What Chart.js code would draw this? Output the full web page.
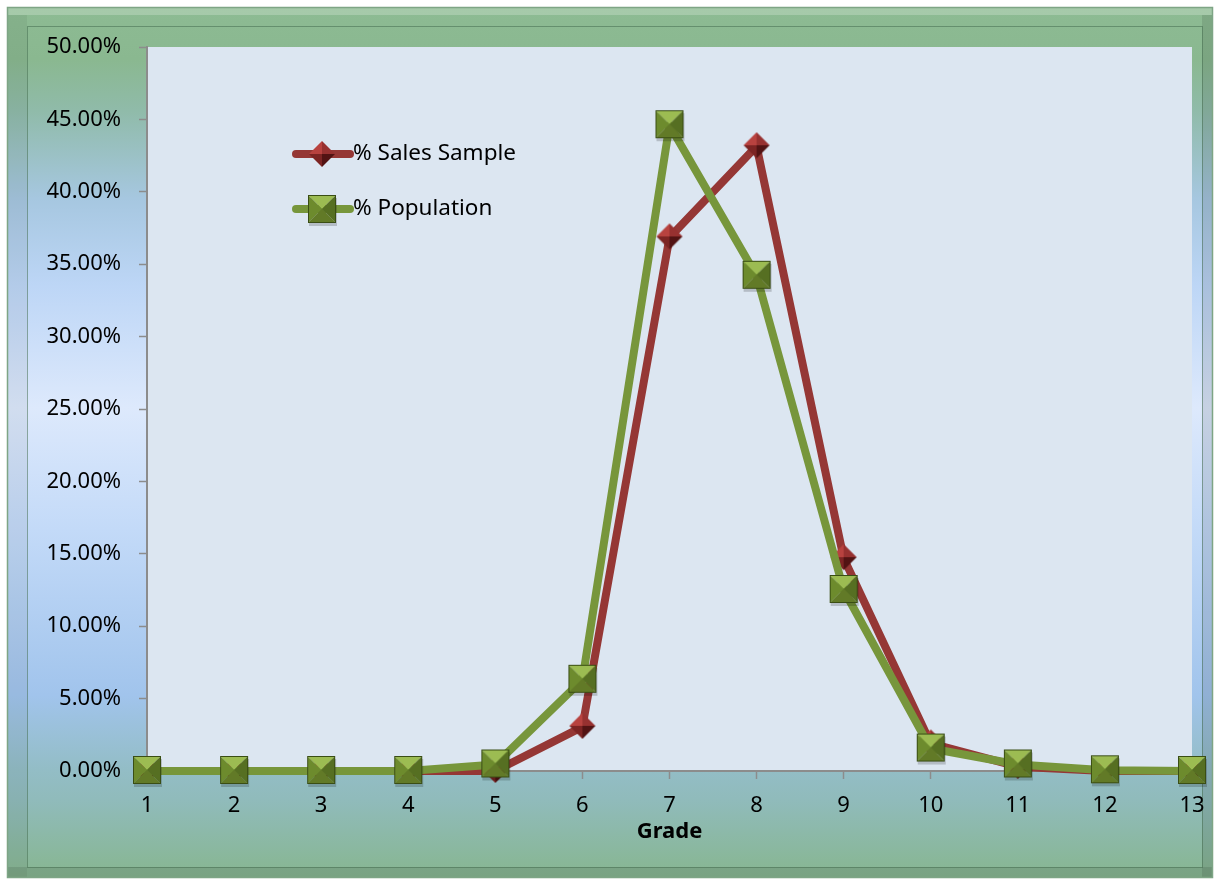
<!DOCTYPE html>
<html>
<head>
<meta charset="utf-8">
<script src="https://cdn.jsdelivr.net/npm/chart.js@4.4.1/dist/chart.umd.min.js"></script>
<style>
  html, body { margin: 0; padding: 0; background: #fff; }
  #wrap { width: 1215px; height: 880px; }
</style>
</head>
<body>
<div id="wrap"><canvas id="gradeChart" width="1215" height="880"></canvas></div>
<script>
const grades = ['1', '2', '3', '4', '5', '6', '7', '8', '9', '10', '11', '12', '13'];
const salesSample = [0, 0, 0, 0, 0, 3.05, 36.85, 43.15, 14.7, 1.9, 0.3, 0, 0];
const population = [0, 0, 0, 0, 0.45, 6.3, 44.6, 34.2, 12.5, 1.55, 0.45, 0.05, 0];
const yTicks = { min: 0, max: 50, step: 5 };

// beveled marker images
function makeSquare() {
  const c = document.createElement('canvas');
  c.width = 32; c.height = 34;
  const g = c.getContext('2d');
  g.fillStyle = 'rgba(0,0,0,0.18)';
  g.fillRect(3, 5, 28, 28);
  const a = 2, b = 30, m = 16;
  const face = (pts, col) => {
    g.beginPath();
    g.moveTo(pts[0][0], pts[0][1]);
    pts.slice(1).forEach(p => g.lineTo(p[0], p[1]));
    g.closePath();
    g.fillStyle = col;
    g.fill();
  };
  face([[a, a], [b, a], [m, m]], '#9cbc52');
  face([[a, a], [m, m], [a, b]], '#6d8b2d');
  face([[b, a], [b, b], [m, m]], '#566f22');
  face([[a, b], [m, m], [b, b]], '#627a27');
  g.strokeStyle = '#3a4e14';
  g.lineWidth = 1;
  g.strokeRect(a + 0.5, a + 0.5, b - a - 1, b - a - 1);
  return c;
}

function makeDiamond() {
  const c = document.createElement('canvas');
  c.width = 30; c.height = 32;
  const g = c.getContext('2d');
  const m = 15, r = 13;
  const face = (pts, col) => {
    g.beginPath();
    g.moveTo(pts[0][0], pts[0][1]);
    pts.slice(1).forEach(p => g.lineTo(p[0], p[1]));
    g.closePath();
    g.fillStyle = col;
    g.fill();
  };
  face([[m, m - r], [m - r, m], [m, m]], '#b8423f');
  face([[m, m - r], [m + r, m], [m, m]], '#973130');
  face([[m - r, m], [m, m + r], [m, m]], '#7c2423');
  face([[m + r, m], [m, m + r], [m, m]], '#521313');
  return c;
}

const squareImg = makeSquare();
const diamondImg = makeDiamond();

const backdrop = {
  id: 'backdrop',
  beforeDraw(chart) {
    const ctx = chart.ctx;
    const { chartArea } = chart;
    ctx.save();
    ctx.fillStyle = '#ffffff';
    ctx.fillRect(0, 0, chart.width, chart.height);
    const x0 = 7, y0 = 7, x1 = 1213, y1 = 878;
    const grad = ctx.createLinearGradient(0, y0, 0, y1);
    grad.addColorStop(0.0, '#8dbb93');
    grad.addColorStop(0.06, '#8ab890');
    grad.addColorStop(0.12, '#90bbaa');
    grad.addColorStop(0.22, '#a6c7e0');
    grad.addColorStop(0.32, '#bdd6f6');
    grad.addColorStop(0.46, '#dde9fc');
    grad.addColorStop(0.6, '#c3daf8');
    grad.addColorStop(0.79, '#a1c4ec');
    grad.addColorStop(0.875, '#93bdc6');
    grad.addColorStop(0.91, '#90bbbb');
    grad.addColorStop(1.0, '#87b690');
    ctx.fillStyle = grad;
    ctx.fillRect(x0, y0, x1 - x0, y1 - y0);
    // bevel bands
    ctx.fillStyle = 'rgba(255,255,255,0.22)';
    ctx.fillRect(x0, y0, x1 - x0, 8);
    ctx.fillStyle = 'rgba(0,0,0,0.05)';
    ctx.fillRect(x0, y0 + 8, 20, y1 - y0 - 8);
    ctx.fillStyle = 'rgba(0,0,0,0.1)';
    ctx.fillRect(x1 - 11, y0 + 8, 11, y1 - y0 - 8);
    ctx.fillRect(x0, y1 - 11, x1 - x0, 11);
    ctx.strokeStyle = 'rgba(70,110,80,0.55)';
    ctx.lineWidth = 1;
    ctx.strokeRect(27.5, 26.5, 1202 - 27, 867 - 26);
    ctx.strokeStyle = '#7ea585';
    ctx.lineWidth = 1.5;
    ctx.strokeRect(x0 + 0.5, y0 + 0.5, x1 - x0 - 1, y1 - y0 - 1);
    // plot area
    ctx.fillStyle = '#dce6f1';
    ctx.fillRect(chartArea.left, chartArea.top, chartArea.right - chartArea.left, chartArea.bottom - chartArea.top);
    ctx.restore();
  }
};

const innerLegend = {
  id: 'innerLegend',
  afterDraw(chart) {
    const ctx = chart.ctx;
    ctx.save();
    chart.data.datasets.forEach((ds, i) => {
      const y = 154 + i * 55;
      ctx.strokeStyle = ds.borderColor;
      ctx.lineWidth = 8;
      ctx.lineCap = 'round';
      ctx.beginPath();
      ctx.moveTo(296, y);
      ctx.lineTo(350, y);
      ctx.stroke();
      const img = ds.pointStyle;
      ctx.drawImage(img, 322 - img.width / 2, y - img.height / 2 + 1);
      ctx.fillStyle = '#000';
      ctx.font = '22.5px "Noto Sans"';
      ctx.textBaseline = 'middle';
      ctx.fillText(ds.label, 353, y);
    });
    ctx.restore();
  }
};

new Chart(document.getElementById('gradeChart'), {
  type: 'line',
  data: {
    labels: grades,
    datasets: [
      {
        label: '% Sales Sample',
        data: salesSample,
        borderColor: '#953735',
        backgroundColor: '#953735',
        borderWidth: 8,
        pointStyle: diamondImg,
        pointRadius: 14,
        borderJoinStyle: 'round',
        borderCapStyle: 'round',
        clip: false,
        order: 2
      },
      {
        label: '% Population',
        data: population,
        borderColor: '#77963b',
        backgroundColor: '#77963b',
        borderWidth: 8,
        pointStyle: squareImg,
        pointRadius: 15,
        borderJoinStyle: 'round',
        borderCapStyle: 'round',
        clip: false,
        order: 1
      }
    ]
  },
  options: {
    responsive: false,
    animation: false,
    layout: { padding: { top: 47, right: 23, bottom: 35, left: 0 } },
    plugins: {
      legend: { display: false },
      tooltip: { enabled: false }
    },
    scales: {
      x: {
        offset: false,
        grid: { drawOnChartArea: false, color: '#8c8c8c', tickLength: 8, tickWidth: 1.5 },
        border: { color: '#8c8c8c', width: 2 },
        ticks: { color: '#000', font: { family: 'Noto Sans', size: 22 }, padding: 14, maxRotation: 0 },
        title: { display: true, text: 'Grade', color: '#000', font: { family: 'Noto Sans', size: 22, weight: 'bold' }, padding: 0 },
        afterFit(scale) {
          scale.height = 74;
          scale.paddingLeft = 0;
          scale.paddingRight = 0;
        }
      },
      y: {
        min: yTicks.min,
        max: yTicks.max,
        grid: { drawOnChartArea: false, color: '#8c8c8c', tickLength: 8, tickWidth: 1.5 },
        border: { color: '#8c8c8c', width: 2 },
        ticks: {
          stepSize: yTicks.step,
          color: '#000',
          padding: 18,
          font: { family: 'Noto Sans', size: 22 },
          callback: (v) => v.toFixed(2) + '%'
        },
        afterFit(scale) { scale.width = 147; }
      }
    }
  },
  plugins: [backdrop, innerLegend]
});
</script>
</body>
</html>
